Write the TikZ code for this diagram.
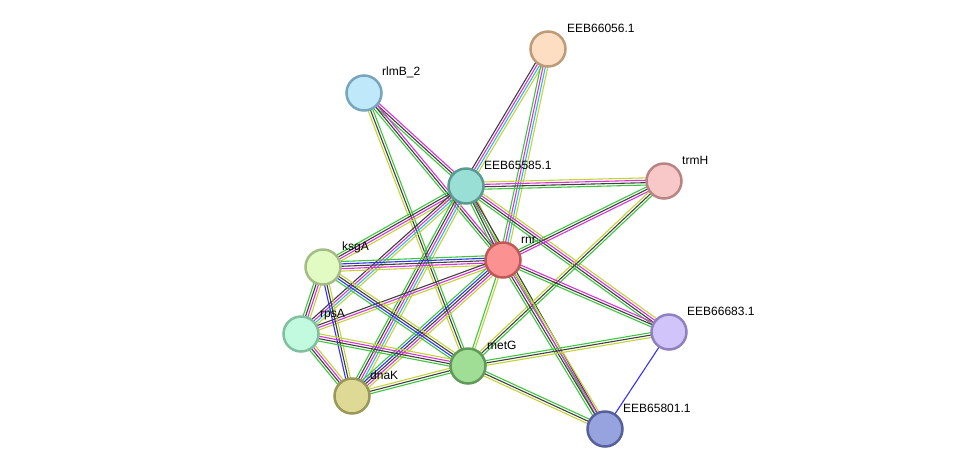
\documentclass[tikz,border=0pt]{standalone}
\usepackage{fontspec}
\setmainfont{Liberation Sans}
\usetikzlibrary{calc}
\pgfdeclarelayer{bg}
\pgfsetlayers{bg,main}
\definecolor{nb}{RGB}{60,200,60}
\definecolor{oc}{RGB}{50,50,250}
\definecolor{co}{RGB}{64,64,64}
\definecolor{ex}{RGB}{220,50,220}
\definecolor{db}{RGB}{50,185,235}
\definecolor{tm}{RGB}{195,212,55}
\tikzset{
  prot/.style={circle, minimum size=35pt, inner sep=0pt, line width=2.5pt},
  lbl/.style={anchor=base west, inner sep=0pt, font=\fontsize{12}{14}\selectfont},
  evid/.style={line width=1.1pt}
}
\newcommand\bundle[4]{%
  \foreach \c [count=\i] in {#4}{%
    \pgfmathsetmacro\o{(\i-(#3+1)/2)*2.4}%
    \draw[evid,\c] ($(#1)!\o pt!90:(#2)$) -- ($(#2)!\o pt!-90:(#1)$);%
  }%
}
\begin{document}
\begin{tikzpicture}[x=1pt,y=-1pt]
\useasboundingbox (0,0) rectangle (975,475);
% nodes
\node[prot, fill={rgb,255:red,253;green,222;blue,195}, draw={rgb,255:red,190;green,155;blue,120}] (e56) at (548,49) {};
\node[prot, fill={rgb,255:red,192;green,232;blue,251}, draw={rgb,255:red,120;green,165;blue,190}] (rlmb) at (364,93) {};
\node[prot, fill={rgb,255:red,154;green,223;blue,214}, draw={rgb,255:red,90;green,154;blue,146}] (e85) at (466,186) {};
\node[prot, fill={rgb,255:red,248;green,200;blue,200}, draw={rgb,255:red,184;green,132;blue,132}] (trmh) at (664,181) {};
\node[prot, fill={rgb,255:red,251;green,145;blue,145}, draw={rgb,255:red,192;green,88;blue,88}] (rnr) at (503,260) {};
\node[prot, fill={rgb,255:red,226;green,251;blue,195}, draw={rgb,255:red,164;green,189;blue,132}] (ksga) at (323,267) {};
\node[prot, fill={rgb,255:red,194;green,250;blue,224}, draw={rgb,255:red,128;green,192;blue,160}] (rpsa) at (301,334) {};
\node[prot, fill={rgb,255:red,208;green,196;blue,250}, draw={rgb,255:red,144;green,128;blue,192}] (e683) at (669,332) {};
\node[prot, fill={rgb,255:red,160;green,222;blue,150}, draw={rgb,255:red,96;green,154;blue,88}] (metg) at (468,366) {};
\node[prot, fill={rgb,255:red,222;green,218;blue,150}, draw={rgb,255:red,154;green,152;blue,88}] (dnak) at (352,396) {};
\node[prot, fill={rgb,255:red,151;green,163;blue,222}, draw={rgb,255:red,86;green,96;blue,154}] (e801) at (605,429) {};
% labels
\node[lbl] (l56) at (567,32) {EEB66056.1};
\node[lbl] (lrlmb) at (382,75) {rlmB\_2};
\node[lbl] (l85) at (484,169) {EEB65585.1};
\node[lbl] (ltrmh) at (682,164) {trmH};
\node[lbl] (lrnr) at (521,243) {rnr};
\node[lbl] (lksga) at (342,250) {ksgA};
\node[lbl] (lrpsa) at (320,317) {rpsA};
\node[lbl] (l683) at (687,315) {EEB66683.1};
\node[lbl] (lmetg) at (487,349) {metG};
\node[lbl] (ldnak) at (370,379) {dnaK};
\node[lbl] (l801) at (623,412) {EEB65801.1};
% edges
\begin{pgfonlayer}{bg}
\bundle{e56}{e85}{4}{co,ex,db,tm}
\bundle{e56}{rnr}{4}{nb,ex,db,tm}
\bundle{rlmb}{e85}{3}{nb,co,ex}
\bundle{rlmb}{rnr}{3}{nb,co,ex}
\bundle{rlmb}{metg}{3}{tm,co,nb}
\bundle{e85}{trmh}{4}{nb,co,ex,tm}
\bundle{e85}{rnr}{4}{nb,co,ex,tm}
\bundle{e85}{e683}{4}{nb,co,ex,tm}
\bundle{e85}{ksga}{4}{nb,co,ex,tm}
\bundle{e85}{rpsa}{4}{co,ex,db,tm}
\bundle{e85}{dnak}{5}{nb,co,ex,db,tm}
\bundle{e85}{e801}{2}{nb,co}
\bundle{trmh}{rnr}{3}{nb,co,ex}
\bundle{trmh}{metg}{3}{tm,co,nb}
\bundle{rnr}{ksga}{5}{nb,oc,co,ex,tm}
\bundle{rnr}{rpsa}{3}{co,ex,tm}
\bundle{rnr}{dnak}{5}{nb,oc,co,ex,tm}
\bundle{rnr}{metg}{2}{nb,tm}
\bundle{rnr}{e683}{3}{nb,co,ex}
\bundle{rnr}{e801}{4}{nb,co,ex,tm}
\bundle{ksga}{rpsa}{4}{nb,co,ex,tm}
\bundle{ksga}{dnak}{3}{oc,co,tm}
\bundle{ksga}{metg}{4}{nb,oc,co,tm}
\bundle{rpsa}{metg}{4}{nb,co,ex,tm}
\bundle{rpsa}{dnak}{4}{nb,co,ex,tm}
\bundle{dnak}{metg}{3}{nb,co,tm}
\bundle{metg}{e683}{3}{tm,co,nb}
\bundle{metg}{e801}{3}{tm,co,nb}
\bundle{e683}{e801}{1}{oc}
\end{pgfonlayer}
\end{tikzpicture}
\end{document}
